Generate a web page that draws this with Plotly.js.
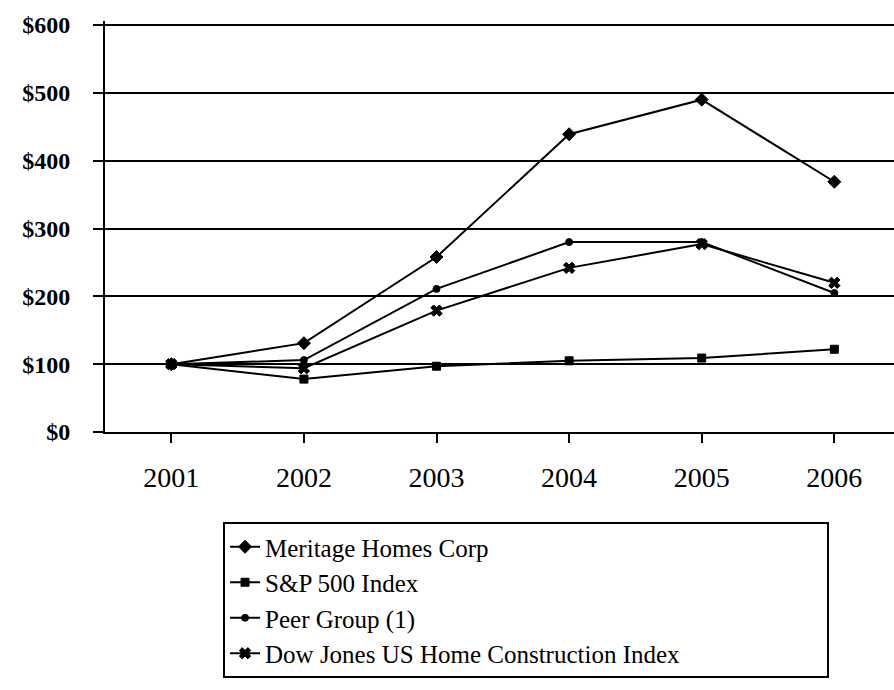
<!DOCTYPE html>
<html>
<head>
<meta charset="utf-8">
<script src="https://cdn.plot.ly/plotly-3.0.1.min.js"></script>
<style>
  html, body { margin: 0; padding: 0; background: #fff; }
  #chart { width: 894px; height: 690px; }
</style>
</head>
<body>
<div id="chart"></div>
<script>
const years = ["2001", "2002", "2003", "2004", "2005", "2006"];
const meritage = [100, 131, 258, 439, 490, 369];
const sp500 = [100, 78, 97, 105, 109, 122];
const peerGroup = [100, 106, 211, 280, 280, 205];
const dowJones = [100, 94, 179, 242, 277, 220];
const yTicks = [0, 100, 200, 300, 400, 500, 600];
const yLabels = ["$0", "$100", "$200", "$300", "$400", "$500", "$600"];

const serif = "Liberation Serif, Times New Roman, serif";

function series(name, values, symbol, size) {
  return {
    x: years,
    y: values,
    name: name,
    type: "scatter",
    mode: "lines+markers",
    line: { color: "#000", width: 2 },
    marker: { color: "#000", symbol: symbol, size: size,
      line: { color: "#000", width: 1 } },
    cliponaxis: false
  };
}

const data = [
  series("Meritage Homes Corp", meritage, "diamond", 10),
  series("S&P 500 Index", sp500, "square", 8),
  series("Peer Group (1)", peerGroup, "circle", 7),
  series("Dow Jones US Home Construction Index", dowJones, "x", 10)
];

const layout = {
  width: 894,
  height: 690,
  margin: { l: 105, r: 0, t: 21, b: 258 },
  paper_bgcolor: "#fff",
  plot_bgcolor: "#fff",
  font: { family: serif, color: "#000" },
  showlegend: true,
  legend: {
    orientation: "h",
    entrywidthmode: "pixels",
    entrywidth: 557,
    x: 0.1496, xanchor: "left",
    y: -0.219, yanchor: "top",
    bordercolor: "#000", borderwidth: 2,
    bgcolor: "#fff",
    font: { family: serif, size: 25, color: "#000" },
    tracegroupgap: 0,
    itemwidth: 30
  },
  xaxis: {
    type: "category",
    range: [-0.5, 5.45],
    showgrid: false,
    showline: true, linecolor: "#000", linewidth: 2,
    ticks: "outside", ticklen: 9, tickwidth: 2, tickcolor: "#000",
    ticklabelstandoff: 10,
    tickfont: { family: serif, size: 28, color: "#000" },
    zeroline: false
  },
  yaxis: {
    range: [0, 606],
    tickvals: yTicks,
    ticktext: yLabels,
    showgrid: true, gridcolor: "#000", gridwidth: 2,
    showline: true, linecolor: "#000", linewidth: 2,
    ticks: "outside", ticklen: 10, tickwidth: 2, tickcolor: "#000",
    ticklabelstandoff: 18,
    tickfont: { family: serif, size: 24, color: "#000", weight: "bold" },
    zeroline: false
  }
};

Plotly.newPlot("chart", data, layout, { displayModeBar: false, staticPlot: true });
</script>
</body>
</html>
